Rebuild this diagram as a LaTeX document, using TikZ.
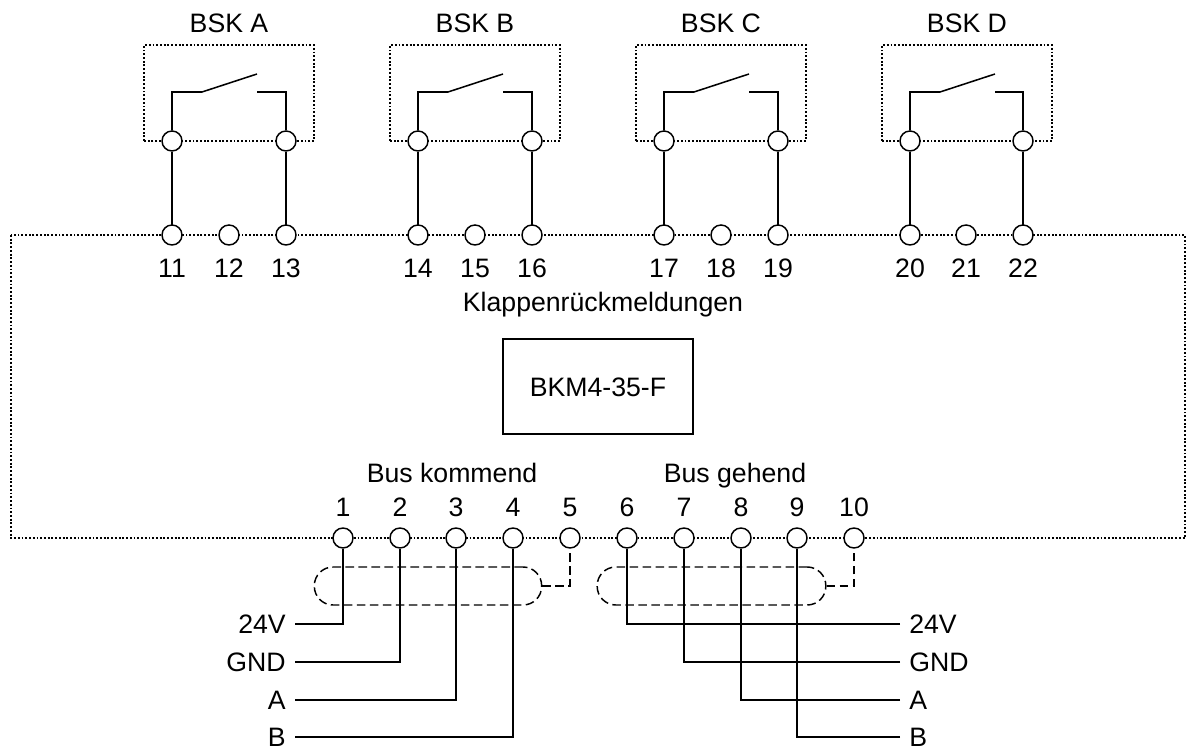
\documentclass[tikz,border=0pt]{standalone}
\usepackage{fontspec}
\setmainfont{Liberation Sans}
\tikzset{
	terminal/.style={circle, draw, fill=white, line width=1.1pt, inner sep=0pt, minimum size=15pt},
	wire/.style={line width=1.15pt},
	housing/.style={line width=1.1pt, dash pattern=on 1.4pt off 1.4pt},
	shield/.style={draw, line width=1.1pt, dash pattern=on 6.5pt off 3.25pt, rounded corners=14pt, inner sep=0pt, minimum height=28.5pt},
	shieldwire/.style={line width=1.1pt, dash pattern=on 6.5pt off 3.25pt},
	txt/.style={font=\fontsize{20}{24}\selectfont, inner sep=0pt, text height=14.3pt, text depth=0pt},
	leftlabel/.style={txt, anchor=east, inner xsep=6.75pt},
	rightlabel/.style={txt, anchor=west, inner xsep=6.75pt}
}
\begin{document}
\begin{tikzpicture}[x=0.75pt, y=-0.75pt]
	\useasboundingbox (0,0) rectangle (1186,748);

	% housing of the module
	\draw [housing] (11,235) rectangle (1185,538);
	\node [draw, line width=1.1pt, txt, minimum width=142.5pt, minimum height=71.25pt] (bkm) at (598,386.5) {BKM4-35-F};
	\node [txt] (rueck) at (603,302) {Klappenrückmeldungen};
	\node [txt] (kommend) at (452,473) {Bus kommend};
	\node [txt] (gehend) at (735,473) {Bus gehend};

	% dampers
	\foreach \name/\a/\b/\na/\nb in {A/172/286/11/13, B/418/532/14/16, C/664/778/17/19, D/910/1023/20/22}
	{
	\draw [housing] (\a-28,141) -- (\a-28,45) -- (\a+142,45) -- (\a+142,141) -- cycle;
	\node [txt] (bsk\name) at (\a+57,23) {BSK \name};
	\node [terminal] (ua\name) at (\a,141) {};
	\node [terminal] (ub\name) at (\b,141) {};
	\coordinate (sa\name) at (\a+30,92);
	\coordinate (sb\name) at (\a+85,74);
	\coordinate (sc\name) at (\a+85,92);
	\draw [wire] (ua\name) |- (sa\name) -- (sb\name);
	\draw [wire] (ub\name) |- (sc\name);
	\draw [wire] (ua\name) -- (\a,235) coordinate (ta\name);
	\draw [wire] (ub\name) -- (\b,235) coordinate (tb\name);
}

	% upper terminals
	\foreach \n/\x in {11/172,12/229,13/286,14/418,15/475,16/532,17/664,18/721,19/778,20/910,21/966,22/1023}
	{
	\node [terminal] (t\n) at (\x,235) {};
	\node [txt] (n\n) at (\x,268) {\n};
}

	% lower terminals
	\foreach \n/\x in {1/343,2/400,3/456,4/513,5/570,6/627,7/684,8/741,9/797,10/854}
	{
	\node [terminal] (t\n) at (\x,538) {};
	\node [txt] (n\n) at (\x,507) {\n};
}

	% shields
	\node [shield, minimum width=170.5pt] (sh1) at (428,586) {};
	\node [shield, minimum width=171.5pt] (sh2) at (711.5,586) {};
	\draw [shieldwire] (sh1.east) -| (t5);
	\draw [shieldwire] (sh2.east) -| (t10);

	% bus wires
	\foreach \n/\lab/\y in {1/24V/624, 2/GND/662, 3/A/700, 4/B/737}
	{
	\node [leftlabel] (l\n) at (295,\y) {\lab};
	\draw [wire] (l\n) -| (t\n);
}
	\foreach \n/\lab/\y in {6/24V/624, 7/GND/662, 8/A/700, 9/B/737}
	{
	\node [rightlabel] (l\n) at (900,\y) {\lab};
	\draw [wire] (l\n) -| (t\n);
}
\end{tikzpicture}
\end{document}
